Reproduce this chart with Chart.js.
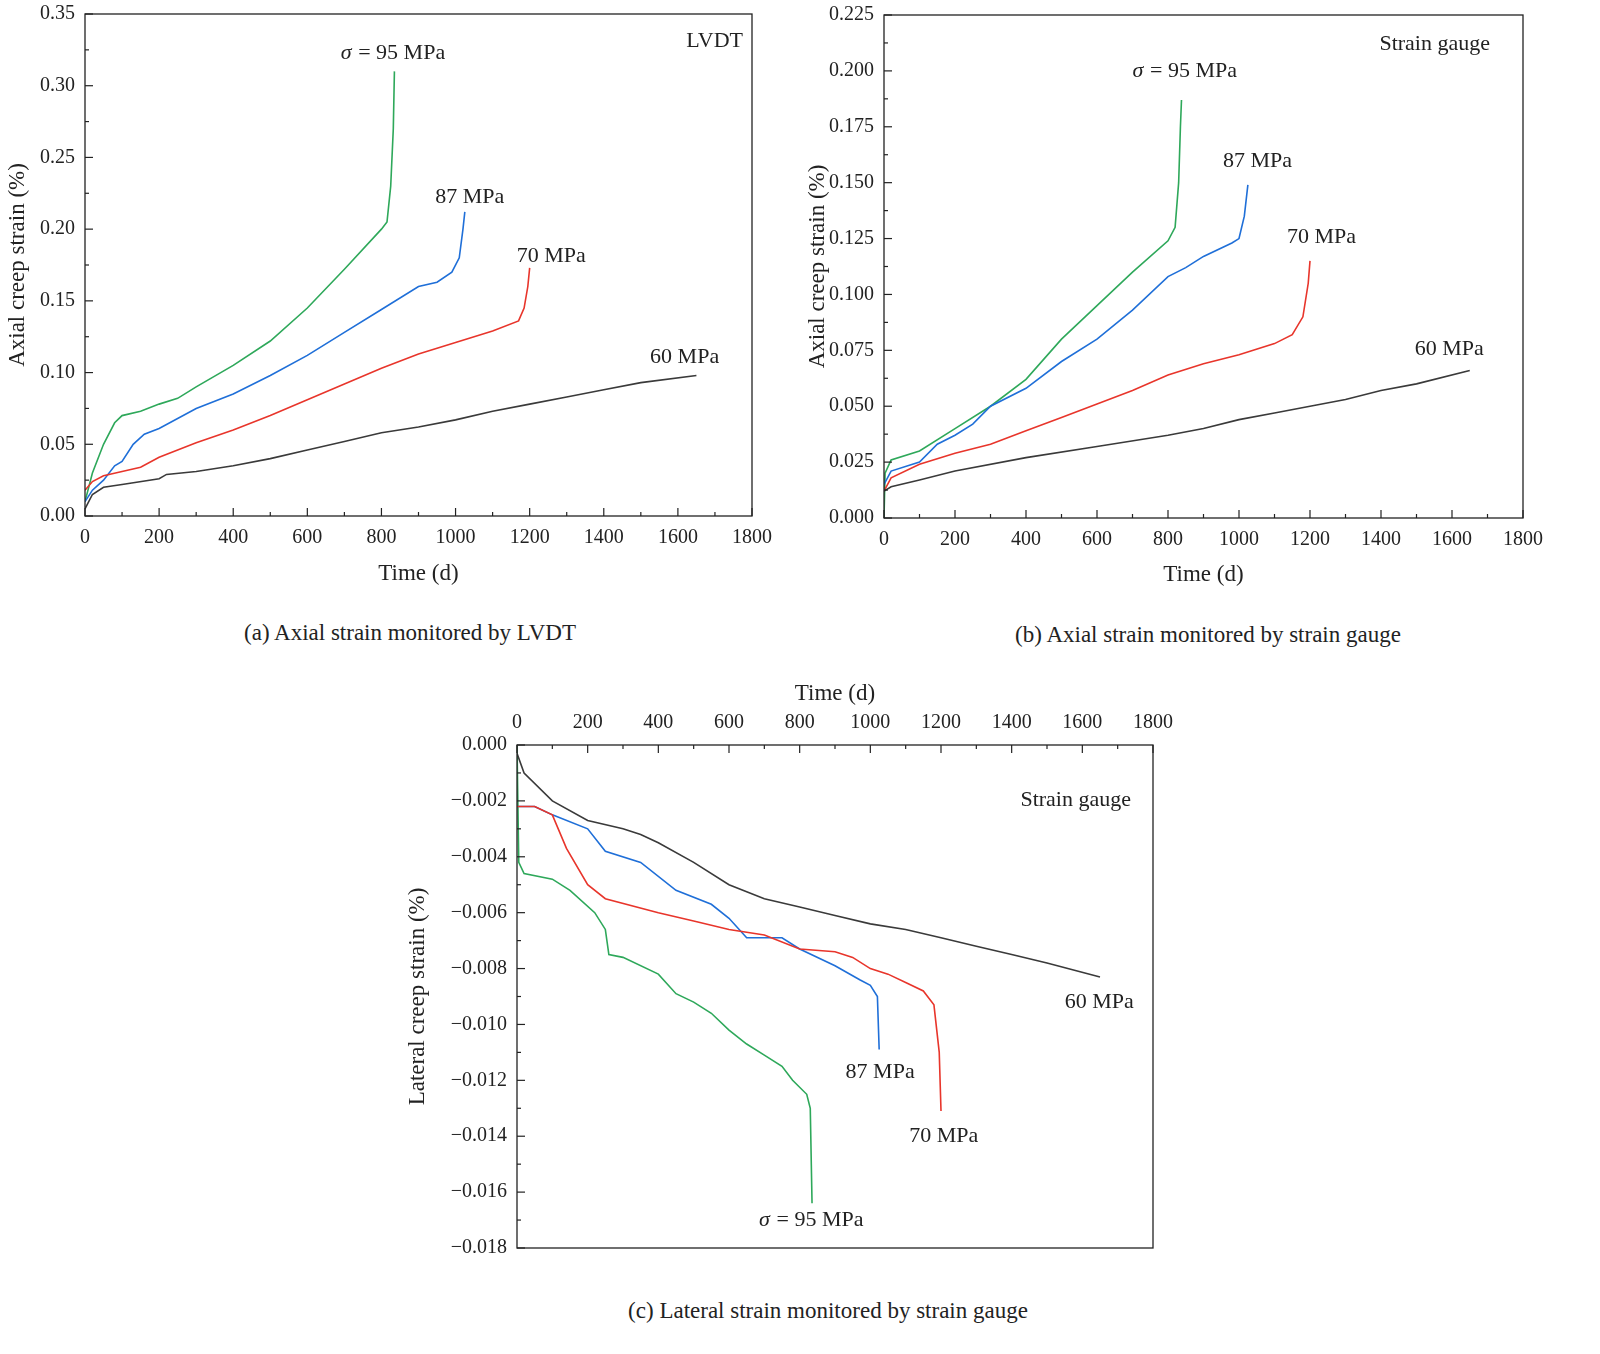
<!DOCTYPE html>
<html><head><meta charset="utf-8">
<script src="https://cdn.jsdelivr.net/npm/chart.js@4.4.1/dist/chart.umd.min.js"></script>
<style>
body{margin:0;background:#fff;width:1600px;height:1354px;position:relative;font-family:"Liberation Serif",serif;overflow:hidden;}
canvas{position:absolute;}
.cap{position:absolute;font-size:23px;color:#222;white-space:nowrap;transform:translateX(-50%);}
</style></head><body>
<canvas id="ca" style="left:0;top:-8px;width:790px;height:600px" width="790" height="600"></canvas>
<canvas id="cb" style="left:800px;top:-7px;width:800px;height:600px" width="800" height="600"></canvas>
<canvas id="cc" style="left:400px;top:670px;width:800px;height:620px" width="800" height="620"></canvas>
<div class="cap" style="left:410px;top:620px">(a) Axial strain monitored by LVDT</div>
<div class="cap" style="left:1208px;top:622px">(b) Axial strain monitored by strain gauge</div>
<div class="cap" style="left:828px;top:1298px">(c) Lateral strain monitored by strain gauge</div>
<script>
const xTicks=[0,200,400,600,800,1000,1200,1400,1600,1800];
const colors={s60:'#3a3a3a',s70:'#e8352b',s87:'#1f6fd8',s95:'#2ea85a'};
// Panel (a) LVDT axial
const a60=[[0,0.005],[20,0.015],[50,0.02],[100,0.022],[200,0.026],[220,0.029],[300,0.031],[400,0.035],[500,0.04],[600,0.046],[700,0.052],[800,0.058],[900,0.062],[1000,0.067],[1100,0.073],[1200,0.078],[1300,0.083],[1400,0.088],[1500,0.093],[1650,0.098]];
const a70=[[0,0.018],[20,0.024],[50,0.028],[100,0.031],[150,0.034],[200,0.041],[300,0.051],[400,0.06],[500,0.07],[600,0.081],[700,0.092],[800,0.103],[900,0.113],[1000,0.121],[1100,0.129],[1170,0.136],[1185,0.145],[1195,0.16],[1200,0.173]];
const a87=[[0,0.01],[20,0.018],[50,0.025],[80,0.035],[100,0.038],[130,0.05],[160,0.057],[200,0.061],[300,0.075],[400,0.085],[500,0.098],[600,0.112],[700,0.128],[800,0.144],[900,0.16],[950,0.163],[990,0.17],[1010,0.18],[1020,0.2],[1025,0.212]];
const a95=[[0,0.01],[20,0.03],[50,0.05],[80,0.065],[100,0.07],[150,0.073],[200,0.078],[250,0.082],[300,0.09],[400,0.105],[500,0.122],[600,0.145],[700,0.172],[800,0.2],[815,0.205],[825,0.23],[832,0.27],[835,0.31]];
// Panel (b) strain gauge axial
const b60=[[0,0.012],[20,0.014],[100,0.017],[200,0.021],[400,0.027],[600,0.032],[800,0.037],[900,0.04],[1000,0.044],[1100,0.047],[1200,0.05],[1300,0.053],[1400,0.057],[1500,0.06],[1650,0.066]];
const b70=[[0,0.012],[20,0.018],[100,0.024],[200,0.029],[300,0.033],[400,0.039],[500,0.045],[600,0.051],[700,0.057],[800,0.064],[900,0.069],[1000,0.073],[1100,0.078],[1150,0.082],[1180,0.09],[1195,0.105],[1200,0.115]];
const b87=[[0,0.015],[20,0.021],[100,0.025],[150,0.033],[200,0.037],[250,0.042],[300,0.05],[400,0.058],[500,0.07],[600,0.08],[700,0.093],[800,0.108],[850,0.112],[900,0.117],[980,0.123],[1000,0.125],[1015,0.135],[1025,0.149]];
const b95=[[0,0.0],[3,0.02],[20,0.026],[100,0.03],[200,0.04],[300,0.05],[400,0.062],[500,0.08],[600,0.095],[700,0.11],[800,0.124],[820,0.13],[830,0.15],[835,0.175],[838,0.187]];
// Panel (c) strain gauge lateral
const c60=[[0,-0.0003],[20,-0.001],[100,-0.002],[200,-0.0027],[300,-0.003],[350,-0.0032],[400,-0.0035],[500,-0.0042],[600,-0.005],[700,-0.0055],[800,-0.0058],[900,-0.0061],[1000,-0.0064],[1100,-0.0066],[1200,-0.0069],[1300,-0.0072],[1400,-0.0075],[1500,-0.0078],[1650,-0.0083]];
const c70=[[0,-0.0022],[50,-0.0022],[100,-0.0025],[140,-0.0037],[200,-0.005],[250,-0.0055],[400,-0.006],[500,-0.0063],[600,-0.0066],[700,-0.0068],[800,-0.0073],[900,-0.0074],[950,-0.0076],[1000,-0.008],[1050,-0.0082],[1100,-0.0085],[1150,-0.0088],[1180,-0.0093],[1195,-0.011],[1200,-0.0131]];
const c87=[[0,-0.0022],[50,-0.0022],[100,-0.0025],[200,-0.003],[250,-0.0038],[350,-0.0042],[450,-0.0052],[550,-0.0057],[600,-0.0062],[650,-0.0069],[750,-0.0069],[800,-0.0073],[900,-0.0079],[970,-0.0084],[1000,-0.0086],[1020,-0.009],[1025,-0.0109]];
const c95=[[0,0],[5,-0.0042],[20,-0.0046],[100,-0.0048],[150,-0.0052],[220,-0.006],[250,-0.0066],[260,-0.0075],[300,-0.0076],[400,-0.0082],[450,-0.0089],[500,-0.0092],[550,-0.0096],[600,-0.0102],[650,-0.0107],[700,-0.0111],[750,-0.0115],[780,-0.012],[820,-0.0125],[830,-0.013],[835,-0.0164]];

const F='"Liberation Serif", serif';
function ds(d,c){return{data:d.map(p=>({x:p[0],y:p[1]})),borderColor:c,borderWidth:1.6,pointRadius:0,tension:0,fill:false};}
const framePlugin={id:'frame',afterDraw(ch){
  const o=ch.options.plugins.frame, ctx=ch.ctx, a=ch.chartArea, xs=ch.scales.x, ys=ch.scales.y;
  ctx.save();ctx.strokeStyle='#222';ctx.lineWidth=1.3;ctx.strokeRect(a.left,a.top,a.right-a.left,a.bottom-a.top);
  ctx.lineWidth=1.2;
  const xEdge=o.xTop?a.top:a.bottom, dir=o.xTop?1:-1;
  for(let v=xs.min;v<=xs.max+1e-9;v+=o.xMinor){const p=xs.getPixelForValue(v);const maj=Math.abs(v/o.xMajor-Math.round(v/o.xMajor))<1e-6;
    ctx.beginPath();ctx.moveTo(p,xEdge);ctx.lineTo(p,xEdge+dir*(maj?8:4));ctx.stroke();}
  const n=Math.round((ys.max-ys.min)/o.yMinor);
  for(let i=0;i<=n;i++){const v=ys.min+i*o.yMinor;const p=ys.getPixelForValue(v);const maj=(i%2)==0;
    ctx.beginPath();ctx.moveTo(a.left,p);ctx.lineTo(a.left+(maj?8:4),p);ctx.stroke();}
  ctx.fillStyle='#222';ctx.textBaseline='middle';
  o.labels.forEach(l=>{ctx.font='22px '+F;ctx.textAlign=l.al||'left';
    let x=l.px?a.left+l.x:xs.getPixelForValue(l.x), y=l.px?a.top+l.y:ys.getPixelForValue(l.y);
    if(l.sig){ctx.font='italic 22px '+F;ctx.fillText('σ',x,y);x+=12;ctx.font='22px '+F;ctx.textAlign='left';ctx.fillText(' = '+l.t,x,y);}
    else ctx.fillText(l.t,x,y);});
  ctx.restore();}};
function make(id,sets,o){
  return new Chart(document.getElementById(id),{type:'line',data:{datasets:sets},
  options:{responsive:false,animation:false,layout:{padding:o.pad},
   plugins:{legend:{display:false},tooltip:{enabled:false},frame:o.frame},
   scales:{
    x:{type:'linear',position:o.frame.xTop?'top':'bottom',min:0,max:1800,
      afterBuildTicks:s=>{s.ticks=xTicks.map(v=>({value:v}));},
      grid:{display:false,drawTicks:false},border:{display:false},
      ticks:{padding:10,color:'#222',font:{family:F,size:20},maxRotation:0,callback:v=>String(v)},
      title:{display:true,text:'Time (d)',color:'#222',font:{family:F,size:23},padding:{top:10,bottom:4}},
      afterFit:s=>{s.height=o.xh;}},
    y:{type:'linear',min:o.ymin,max:o.ymax,
      afterBuildTicks:s=>{s.ticks=o.yTicks.map(v=>({value:v}));},
      grid:{display:false,drawTicks:false},border:{display:false},
      ticks:{padding:10,color:'#222',font:{family:F,size:20},callback:v=>(v<0?'\u2212':'')+Math.abs(v).toFixed(o.dec)},
      title:{display:true,text:o.yt,color:'#222',font:{family:F,size:23},padding:{bottom:2}},
      afterFit:s=>{s.width=o.yw;}}}},
  plugins:[framePlugin]});
}
const yA=[0,0.05,0.10,0.15,0.20,0.25,0.30,0.35];
const yB=[0,0.025,0.05,0.075,0.1,0.125,0.15,0.175,0.2,0.225];
const yC=[0,-0.002,-0.004,-0.006,-0.008,-0.01,-0.012,-0.014,-0.016,-0.018];
make('ca',[ds(a60,colors.s60),ds(a70,colors.s70),ds(a87,colors.s87),ds(a95,colors.s95)],
 {pad:{top:0,right:38,left:0,bottom:0},xh:76,yw:85,ymin:0,ymax:0.35,yTicks:yA,dec:2,yt:'Axial creep strain (%)',
  frame:{xMinor:100,xMajor:200,yMinor:0.025,labels:[{t:'LVDT',x:658,y:27,px:true,al:'right'},{sig:1,t:'95 MPa',x:690,y:0.323},{t:'87 MPa',x:945,y:0.222},{t:'70 MPa',x:1165,y:0.181},{t:'60 MPa',x:1525,y:0.111}]}});
make('cb',[ds(b60,colors.s60),ds(b70,colors.s70),ds(b87,colors.s87),ds(b95,colors.s95)],
 {pad:{top:0,right:77,left:0,bottom:0},xh:75,yw:84,ymin:0,ymax:0.225,yTicks:yB,dec:3,yt:'Axial creep strain (%)',
  frame:{xMinor:100,xMajor:200,yMinor:0.0125,labels:[{t:'Strain gauge',x:606,y:29,px:true,al:'right'},{sig:1,t:'95 MPa',x:700,y:0.2},{t:'87 MPa',x:955,y:0.1595},{t:'70 MPa',x:1135,y:0.1255},{t:'60 MPa',x:1495,y:0.0755}]}});
make('cc',[ds(c60,colors.s60),ds(c70,colors.s70),ds(c87,colors.s87),ds(c95,colors.s95)],
 {pad:{top:0,right:47,left:0,bottom:42},xh:75,yw:117,ymin:-0.018,ymax:0,yTicks:yC,dec:3,yt:'Lateral creep strain (%)',
  frame:{xTop:true,xMinor:100,xMajor:200,yMinor:0.001,labels:[{t:'Strain gauge',x:614,y:55,px:true,al:'right'},{t:'60 MPa',x:1550,y:-0.0092},{t:'87 MPa',x:930,y:-0.0117},{t:'70 MPa',x:1110,y:-0.0140},{sig:1,t:'95 MPa',x:685,y:-0.0170}]}});
</script></body></html>
